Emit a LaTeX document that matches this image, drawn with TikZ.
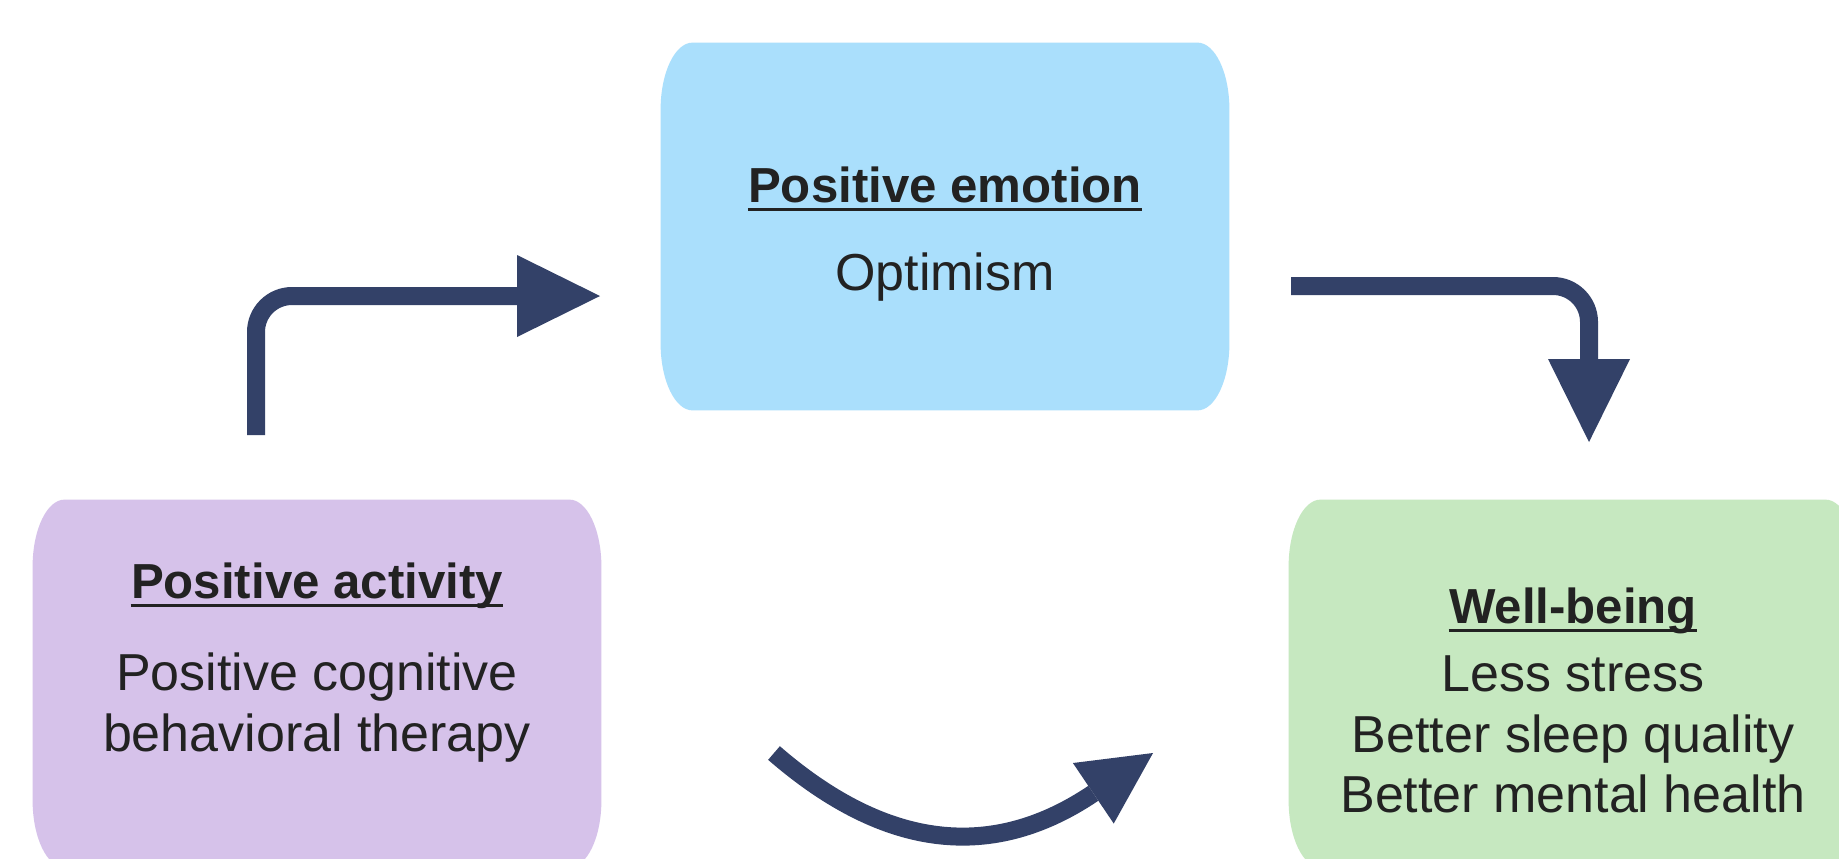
\documentclass[tikz,border=0pt]{standalone}
\usepackage{fontspec}
\setmainfont{Liberation Sans}
\usetikzlibrary{arrows.meta,calc}
\definecolor{bluefill}{RGB}{170,223,252}
\definecolor{purplefill}{RGB}{214,194,234}
\definecolor{greenfill}{RGB}{198,232,192}
\definecolor{navy}{RGB}{51,65,104}
\definecolor{txt}{RGB}{34,34,34}
\newcommand\ellbox[2]{%
  \fill[#2] ([yshift=-33.5pt]#1.north west)
    arc[start angle=180,end angle=90,x radius=16pt,y radius=33.5pt]
    -- ([xshift=-16pt]#1.north east)
    arc[start angle=90,end angle=0,x radius=16pt,y radius=33.5pt]
    -- ([yshift=33.5pt]#1.south east)
    arc[start angle=0,end angle=-90,x radius=16pt,y radius=33.5pt]
    -- ([xshift=16pt]#1.south west)
    arc[start angle=270,end angle=180,x radius=16pt,y radius=33.5pt]
    -- cycle;}
\newcommand\titleline[1]{%
  \draw[uline] ([yshift=-3.75pt]#1.base west) -- ([yshift=-3.75pt]#1.base east);}
\tikzset{
  boxnode/.style={minimum width=284pt, minimum height=183.5pt, inner sep=0pt, draw=none},
  ttl/.style={anchor=base, inner sep=0pt, font=\fontsize{24.6pt}{30pt}\selectfont\bfseries, text=txt},
  body/.style={anchor=base, inner sep=0pt, font=\fontsize{26pt}{30pt}\selectfont, text=txt},
  uline/.style={draw=txt, line width=1.6pt},
  arr/.style={draw=navy, line width=9pt, rounded corners=18pt,
    -{Triangle[length=41.5pt,width=41pt,line width=0pt]}},
  arrc/.style={draw=navy, line width=9pt,
    -{Triangle[length=36pt,width=36.5pt,line width=0pt]}}
}
\begin{document}
\begin{tikzpicture}[x=0.5pt,y=-0.5pt]
\useasboundingbox (0,0) rectangle (1839,858);
\clip (0,0) rectangle (1839,858);
\fill[white] (0,0) rectangle (1839,858);

% boxes
\node[boxnode] (emo) at (945,226.5) {};
\node[boxnode] (act) at (317,683.5) {};
\node[boxnode] (well) at (1573,683.5) {};
\ellbox{emo}{bluefill}
\ellbox{act}{purplefill}
\ellbox{well}{greenfill}

% texts
\node[ttl] (emoT) at (945,202) {Positive emotion};
\node[body] (emoB) at (945,290) {Optimism};
\titleline{emoT}

\node[ttl] (actT) at (317,598) {Positive activity};
\node[body] (actB1) at (317,690) {Positive cognitive};
\node[body] (actB2) at (317,751) {behavioral therapy};
\titleline{actT}

\node[ttl] (wellT) at (1573,623) {Well-being};
\node[body] (wellB1) at (1573,691) {Less stress};
\node[body] (wellB2) at (1573,752) {Better sleep quality};
\node[body] (wellB3) at (1573,812) {Better mental health};
\titleline{wellT}

% arrows
\coordinate (a1s) at (256,435);
\coordinate (a1e) at (600,296);
\coordinate (a2s) at (1291,286);
\coordinate (a2e) at (1589,442);
\coordinate (a3s) at (774,753);
\coordinate (a3e) at (1153,753);
\draw[arr] (a1s) |- (a1e);
\draw[arr] (a2s) -| (a2e);
\draw[arrc] (a3s) .. controls (880,845) and (987,865) .. (a3e);
\end{tikzpicture}
\end{document}
